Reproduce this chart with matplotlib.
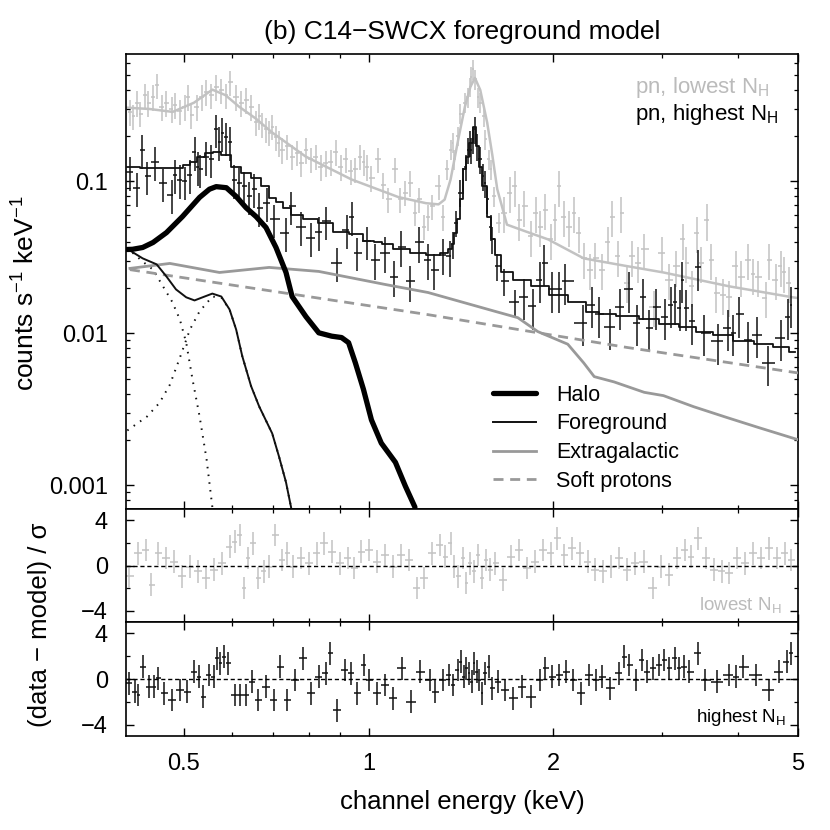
import numpy as np
import matplotlib
matplotlib.use("Agg")
import matplotlib.pyplot as plt
from matplotlib.ticker import FixedLocator, NullFormatter, LogLocator

plt.rcParams['font.family'] = ['Liberation Sans', 'DejaVu Sans']
plt.rcParams['mathtext.fontset'] = 'custom'
plt.rcParams['mathtext.rm'] = 'Liberation Sans'
plt.rcParams['mathtext.it'] = 'Liberation Sans:italic'
plt.rcParams['mathtext.bf'] = 'Liberation Sans:bold'

# ---------------- data: pn, highest N_H (black) ----------------
hi_E = [0.409, 0.420, 0.428, 0.436, 0.449, 0.463, 0.478, 0.484, 0.493, 0.502,
        0.512, 0.521, 0.527, 0.531, 0.544, 0.555, 0.565, 0.572, 0.578, 0.586,
        0.594, 0.604, 0.616, 0.628, 0.640, 0.652, 0.664, 0.684, 0.701, 0.734,
        0.748, 0.777, 0.806, 0.830, 0.852, 0.888, 0.921, 0.939, 0.956, 0.993,
        1.026, 1.065, 1.100, 1.130, 1.170, 1.210, 1.250, 1.280, 1.320, 1.355,
        1.370, 1.390, 1.410, 1.425, 1.440, 1.450, 1.460, 1.470, 1.480, 1.490,
        1.500, 1.520, 1.535, 1.545, 1.560, 1.580, 1.590, 1.620, 1.660, 1.730,
        1.790, 1.850, 1.900, 1.930, 1.990, 2.040, 2.090, 2.230, 2.310, 2.370,
        2.470, 2.570, 2.650, 2.730, 2.800, 2.860, 2.940, 3.040, 3.110, 3.150,
        3.210, 3.240, 3.290, 3.360, 3.440, 3.520, 3.710, 3.850, 3.920, 4.010,
        4.150, 4.280, 4.470, 4.690, 4.820, 4.870]
hi_rate = [0.116, 0.0912, 0.162, 0.108, 0.135, 0.0971, 0.082, 0.111, 0.103, 0.100,
           0.111, 0.157, 0.125, 0.120, 0.146, 0.140, 0.220, 0.183, 0.210, 0.195,
           0.183, 0.103, 0.098, 0.093, 0.0797, 0.089, 0.0672, 0.0727, 0.0563, 0.0461,
           0.0686, 0.0505, 0.0426, 0.0468, 0.0546, 0.0293, 0.0482, 0.0587, 0.0341, 0.0403,
           0.0306, 0.0341, 0.0237, 0.0373, 0.0220, 0.0397, 0.0306, 0.0263, 0.0330, 0.0322,
           0.0385, 0.0536, 0.0846, 0.103, 0.125, 0.162, 0.180, 0.162, 0.189, 0.220,
           0.170, 0.140, 0.108, 0.098, 0.0763, 0.0505, 0.0416, 0.0276, 0.0220, 0.0160,
           0.0175, 0.0151, 0.0226, 0.0293, 0.0195, 0.0195, 0.0220, 0.0118, 0.0155, 0.0134,
           0.0111, 0.0150, 0.0195, 0.0118, 0.0175, 0.0109, 0.0150, 0.0129, 0.0155, 0.0162,
           0.0148, 0.0226, 0.0148, 0.0120, 0.0272, 0.0101, 0.0089, 0.0109, 0.0101, 0.0134,
           0.0091, 0.0098, 0.0064, 0.0094, 0.0129, 0.0155]
hi_relerr = [0.25] * 40 + [0.27] * 10 + [0.2] * 20 + [0.3] * 36

# ---------------- data: pn, lowest N_H (light grey) ----------------
lo_E = [0.409, 0.414, 0.420, 0.425, 0.433, 0.438, 0.446, 0.452, 0.461, 0.469,
        0.478, 0.484, 0.493, 0.502, 0.508, 0.515, 0.525, 0.535, 0.544, 0.555,
        0.565, 0.576, 0.586, 0.596, 0.609, 0.620, 0.632, 0.644, 0.656, 0.664,
        0.672, 0.681, 0.689, 0.697, 0.707, 0.715, 0.723, 0.737, 0.751, 0.765,
        0.777, 0.791, 0.806, 0.821, 0.836, 0.852, 0.868, 0.884, 0.901, 0.918,
        0.935, 0.952, 0.970, 0.982, 0.993, 1.011, 1.038, 1.057, 1.077, 1.106,
        1.127, 1.148, 1.170, 1.190, 1.210, 1.230, 1.250, 1.270, 1.300, 1.320,
        1.340, 1.360, 1.370, 1.380, 1.400, 1.410, 1.435, 1.450, 1.460, 1.470,
        1.480, 1.490, 1.510, 1.520, 1.540, 1.550, 1.570, 1.580, 1.600, 1.630,
        1.660, 1.700, 1.730, 1.760, 1.790, 1.840, 1.870, 1.900, 1.940, 1.980,
        2.010, 2.040, 2.080, 2.120, 2.160, 2.200, 2.240, 2.290, 2.340, 2.400,
        2.450, 2.490, 2.550, 2.580, 2.630, 2.680, 2.750, 2.810, 2.910, 3.000,
        3.080, 3.170, 3.250, 3.290, 3.360, 3.420, 3.480, 3.550, 3.610, 3.680,
        3.780, 3.860, 3.960, 4.040, 4.150, 4.220, 4.300, 4.430, 4.480, 4.600,
        4.690, 4.740, 4.830]
lo_rate = [0.288, 0.268, 0.330, 0.280, 0.370, 0.330, 0.360, 0.430, 0.310, 0.330,
           0.300, 0.320, 0.290, 0.310, 0.360, 0.275, 0.310, 0.360, 0.390, 0.370,
           0.420, 0.400, 0.370, 0.450, 0.360, 0.330, 0.345, 0.310, 0.245, 0.270,
           0.237, 0.220, 0.210, 0.230, 0.195, 0.180, 0.162, 0.170, 0.146, 0.155,
           0.133, 0.162, 0.140, 0.146, 0.125, 0.133, 0.135, 0.157, 0.125, 0.140,
           0.117, 0.120, 0.146, 0.135, 0.125, 0.106, 0.140, 0.0953, 0.0763, 0.120,
           0.0763, 0.0846, 0.098, 0.0625, 0.0763, 0.0505, 0.0587, 0.0686, 0.093, 0.0587,
           0.120, 0.162, 0.180, 0.140, 0.200, 0.280, 0.330, 0.360, 0.420, 0.490,
           0.550, 0.470, 0.360, 0.330, 0.270, 0.189, 0.140, 0.120, 0.080, 0.0536,
           0.0625, 0.0846, 0.093, 0.056, 0.0686, 0.0436, 0.0625, 0.0505, 0.0653, 0.0416,
           0.056, 0.093, 0.0587, 0.0505, 0.0625, 0.0461, 0.0312, 0.0263, 0.0312, 0.0263,
           0.0397, 0.0587, 0.0322, 0.0625, 0.0216, 0.0322, 0.0293, 0.0357, 0.0150, 0.0340,
           0.0226, 0.0276, 0.0416, 0.0293, 0.0204, 0.0461, 0.0293, 0.0560, 0.0306, 0.0186,
           0.0180, 0.0175, 0.0276, 0.0237, 0.0306, 0.0245, 0.0237, 0.0172, 0.0306, 0.0226,
           0.0276, 0.0252, 0.0216]
lo_relerr = [0.19] * 70 + [0.15] * 20 + [0.27] * 53

# ---------------- model curves ----------------
hi_mod_E = [0.404, 0.446, 0.493, 0.505, 0.521, 0.531, 0.551, 0.565, 0.587, 0.609,
            0.632, 0.656, 0.681, 0.697, 0.715, 0.734, 0.760, 0.806, 0.852, 0.901,
            0.960, 1.002, 1.038, 1.065, 1.130, 1.205, 1.280, 1.330, 1.360, 1.372,
            1.385, 1.400, 1.415, 1.435, 1.450, 1.465, 1.490, 1.505, 1.520, 1.545,
            1.570, 1.590, 1.620, 1.665, 1.770, 1.900, 2.040, 2.190, 2.320, 2.420,
            2.640, 2.870, 3.080, 3.320, 3.500, 3.780, 4.070, 4.400, 4.720, 4.950]
hi_mod = [0.125, 0.122, 0.122, 0.128, 0.135, 0.146, 0.153, 0.157, 0.150, 0.125,
          0.114, 0.106, 0.093, 0.078, 0.073, 0.0672, 0.0606, 0.0563, 0.0536, 0.0468,
          0.0448, 0.0403, 0.0397, 0.0385, 0.0357, 0.0341, 0.0330, 0.0338, 0.0357, 0.0385,
          0.0461, 0.0563, 0.0763, 0.120, 0.146, 0.180, 0.230, 0.170, 0.125, 0.093,
          0.0587, 0.0416, 0.0326, 0.0252, 0.0226, 0.0204, 0.018, 0.016, 0.0139, 0.0134,
          0.0130, 0.0124, 0.0115, 0.0110, 0.0103, 0.0098, 0.0089, 0.0085, 0.0081, 0.0076]

lo_mod_E = [0.404, 0.44, 0.48, 0.52, 0.557, 0.585, 0.616, 0.655, 0.697, 0.79,
            0.939, 1.118, 1.24, 1.30, 1.33, 1.36, 1.40, 1.435, 1.465, 1.49,
            1.52, 1.56, 1.59, 1.62, 1.68, 1.80, 1.96, 2.24, 2.60, 3.02,
            3.87, 4.9, 5.0]
lo_mod = [0.306, 0.300, 0.287, 0.33, 0.402, 0.37, 0.31, 0.26, 0.21, 0.146,
          0.103, 0.079, 0.072, 0.0707, 0.076, 0.103, 0.19, 0.31, 0.42, 0.48,
          0.40, 0.244, 0.15, 0.089, 0.052, 0.047, 0.0416, 0.0312, 0.0280, 0.0252,
          0.0204, 0.0173, 0.0171]

halo_E = [0.405, 0.413, 0.429, 0.446, 0.469, 0.498, 0.531, 0.551, 0.565, 0.587,
          0.609, 0.632, 0.656, 0.681, 0.707, 0.734, 0.751, 0.791, 0.830, 0.871,
          0.904, 0.928, 0.952, 0.981, 1.011, 1.049, 1.106, 1.148, 1.19]
halo = [0.0357, 0.0358, 0.0368, 0.0397, 0.0461, 0.0588, 0.0786, 0.089, 0.0925, 0.091,
        0.0797, 0.0672, 0.0588, 0.0498, 0.0368, 0.0252, 0.0175, 0.0129, 0.0101, 0.0096,
        0.0094, 0.0087, 0.0064, 0.0043, 0.0027, 0.0019, 0.00142, 0.00099, 0.00072]

fg_E = [0.405, 0.429, 0.452, 0.469, 0.486, 0.505, 0.521, 0.541, 0.557, 0.576,
        0.594, 0.609, 0.623, 0.644, 0.664, 0.697, 0.715, 0.734, 0.748]
fg = [0.0360, 0.0312, 0.0285, 0.0237, 0.0195, 0.0173, 0.0165, 0.0175, 0.0183, 0.0175,
      0.0144, 0.0106, 0.0071, 0.0045, 0.0033, 0.0022, 0.00155, 0.00105, 0.00072]

fg1_E = [0.413, 0.430, 0.446, 0.463, 0.479, 0.493, 0.505, 0.517, 0.531, 0.545, 0.557]
fg1 = [0.0340, 0.0295, 0.0263, 0.0204, 0.0162, 0.0124, 0.0087, 0.0050, 0.00284, 0.00149, 0.00072]

fg2_E = [0.405, 0.436, 0.457, 0.475, 0.493, 0.512, 0.531, 0.557, 0.576, 0.594,
         0.609, 0.623, 0.644, 0.664, 0.697, 0.715, 0.734, 0.748]
fg2 = [0.0023, 0.00284, 0.0035, 0.0046, 0.0069, 0.0106, 0.014, 0.0175, 0.0172, 0.0144,
       0.0106, 0.0071, 0.0045, 0.0033, 0.0022, 0.00155, 0.00105, 0.00072]

xgal_E = [0.409, 0.475, 0.572, 0.689, 0.830, 1.065, 1.25, 1.605, 1.75, 1.885,
          2.11, 2.24, 2.33, 2.51, 2.81, 3.02, 3.38, 3.83, 4.32, 5.0]
xgal = [0.0268, 0.0289, 0.0252, 0.0272, 0.0256, 0.021, 0.0186, 0.014, 0.0127, 0.0103,
        0.0085, 0.0064, 0.0052, 0.0048, 0.0041, 0.0039, 0.0033, 0.0028, 0.0024, 0.0020]

sp_E = [0.409, 1.25, 2.63, 5.0]
sp = [0.0263, 0.0133, 0.0081, 0.0055]

# ---------------- residuals ----------------
rlo_E = [0.408, 0.422, 0.434, 0.443, 0.455, 0.469, 0.483, 0.497, 0.512, 0.527,
         0.543, 0.560, 0.577, 0.594, 0.606, 0.618, 0.626, 0.636, 0.649, 0.662,
         0.675, 0.689, 0.705, 0.724, 0.738, 0.753, 0.775, 0.799, 0.823, 0.847,
         0.873, 0.899, 0.926, 0.948, 0.973, 1.002, 1.032, 1.063, 1.095, 1.128,
         1.162, 1.197, 1.233, 1.270, 1.308, 1.334, 1.360, 1.379, 1.401, 1.423,
         1.443, 1.463, 1.486, 1.510, 1.530, 1.552, 1.576, 1.607, 1.657, 1.707,
         1.758, 1.812, 1.866, 1.922, 1.980, 2.030, 2.079, 2.141, 2.206, 2.272,
         2.340, 2.410, 2.483, 2.557, 2.634, 2.713, 2.804, 2.903, 2.990, 3.081,
         3.173, 3.268, 3.348, 3.435, 3.538, 3.644, 3.754, 3.866, 3.982, 4.101,
         4.225, 4.351, 4.482, 4.617, 4.755, 4.879]
rlo = [-0.97, 1.08, 1.38, -1.7, 1.08, 0.65, 0.35, -0.97, -0.09, -0.53,
       -1.1, -0.38, 0.2, 1.67, 2.1, 2.7, -2.0, 0.65, 1.96, -1.1,
       -0.53, -0.09, 2.7, 0.5, 1.08, -0.09, 0.65, 0.2, 1.08, 1.96,
       1.23, 0.2, 0.65, -0.23, 1.23, 1.38, 0.35, 0.94, -0.09, 0.94,
       0.5, -2.0, -1.1, 1.08, 1.82, 0.79, 1.96, -0.09, -0.97, 0.65,
       -1.55, 0.2, -0.53, 0.94, -1.1, 0.5, -0.38, 0.2, -1.26, 0.79,
       1.38, -0.23, 0.35, 1.38, 1.08, 2.4, 0.94, 1.52, 1.08, 0.35,
       -0.38, -0.53, -0.09, 0.65, -0.38, 0.2, 0.35, -2.0, -0.09, -0.82,
       0.65, 1.38, 0.79, 2.4, 0.65, -0.38, -0.53, -0.67, 0.65, 0.2,
       1.08, 0.65, 1.52, 0.65, 1.08, 0.5]

rhi_E = [0.408, 0.417, 0.422, 0.429, 0.439, 0.448, 0.455, 0.464, 0.478, 0.493,
         0.507, 0.520, 0.530, 0.538, 0.549, 0.560, 0.567, 0.574, 0.582, 0.590,
         0.606, 0.618, 0.631, 0.647, 0.662, 0.682, 0.702, 0.719, 0.738, 0.760,
         0.783, 0.807, 0.831, 0.852, 0.864, 0.890, 0.917, 0.935, 0.959, 0.983,
         1.002, 1.032, 1.063, 1.095, 1.133, 1.171, 1.215, 1.257, 1.282, 1.321,
         1.352, 1.374, 1.396, 1.415, 1.429, 1.443, 1.457, 1.471, 1.486, 1.500,
         1.515, 1.530, 1.545, 1.569, 1.590, 1.624, 1.665, 1.721, 1.775, 1.839,
         1.902, 1.941, 1.990, 2.045, 2.097, 2.153, 2.214, 2.285, 2.349, 2.397,
         2.473, 2.557, 2.607, 2.659, 2.729, 2.784, 2.840, 2.904, 2.970, 3.028,
         3.088, 3.148, 3.198, 3.262, 3.329, 3.435, 3.524, 3.693, 3.866, 3.966,
         4.062, 4.266, 4.482, 4.662, 4.806, 4.879]
rhi = [-0.38, -1.1, -1.41, 1.08, -0.67, -0.67, 0.06, -1.26, -1.85, -0.97,
       -1.1, 0.65, 0.2, -1.55, 0.35, 0.2, 1.82, 1.38, 1.96, 1.38,
       -1.41, -1.41, -1.41, -0.23, -1.85, -0.67, -1.85, 1.08, -1.85, -0.09,
       1.82, -1.26, 0.2, 0.5, 2.26, -2.73, 0.79, 0.5, -1.26, 1.23,
       -0.09, -1.26, -0.53, -1.7, 0.94, -1.99, 0.65, -0.09, -1.1, -0.09,
       0.35, -0.53, 0.79, 1.52, 0.2, 0.94, 0.5, -0.23, 1.38, 0.65,
       -0.09, -1.26, 0.5, 1.08, -0.82, -0.23, -0.97, -1.7, -0.67, -1.55,
       -0.09, 0.94, 0.2, 0.35, 0.65, -0.09, -1.26, 0.35, -0.09, 0.2,
       -0.82, 0.5, 1.96, 1.23, -0.09, 1.67, 0.65, 0.94, 1.23, 1.67,
       0.94, 1.82, 0.94, 1.08, 0.65, 2.26, -0.09, -0.23, 0.35, 0.2,
       1.08, 0.35, -0.97, 0.65, 1.52, 2.26]

xticks = [0.5, 1, 2, 5]
xtick_labels = ['0.5', '1', '2', '5']

# ---------------- helpers ----------------
def bin_halfwidths(E):
    E = np.asarray(E, float)
    lg = np.log10(E)
    mid = 0.5 * (lg[1:] + lg[:-1])
    lo = np.r_[lg[0] - (mid[0] - lg[0]), mid]
    hi = np.r_[mid, lg[-1] + (lg[-1] - mid[-1])]
    return np.vstack([E - 10 ** lo, 10 ** hi - E])

BLACK = '#111111'
LGREY = '#c2c2c2'
MGREY = '#999999'
FS_TICK = 17
FS_LAB = 18.5

fig = plt.figure(figsize=(8.3, 8.3), dpi=100)
L, W = 126 / 830, 672 / 830
ax = fig.add_axes([L, 1 - 509 / 830, W, 455 / 830])
ar1 = fig.add_axes([L, 1 - 622 / 830, W, 113 / 830])
ar2 = fig.add_axes([L, 1 - 736 / 830, W, 114 / 830])

# main panel
loE = np.array(lo_E); loR = np.array(lo_rate)
ax.errorbar(loE, loR, xerr=bin_halfwidths(loE), yerr=loR * np.array(lo_relerr),
            fmt='none', ecolor=LGREY, elinewidth=1.1, capsize=0, zorder=1)
ax.plot(lo_mod_E, lo_mod, color=LGREY, lw=1.8, zorder=2)
hiE = np.array(hi_E); hiR = np.array(hi_rate)
ax.errorbar(hiE, hiR, xerr=bin_halfwidths(hiE), yerr=hiR * np.array(hi_relerr),
            fmt='none', ecolor=BLACK, elinewidth=1.1, capsize=0, zorder=3)
ax.plot(hi_mod_E, hi_mod, color=BLACK, lw=1.3, drawstyle='steps-mid', zorder=4)

ax.plot(fg1_E, fg1, color=BLACK, lw=1.4, ls=(0, (0.8, 3.2)), zorder=5)
ax.plot(fg2_E, fg2, color=BLACK, lw=1.4, ls=(0, (0.8, 3.2)), zorder=5)
ax.plot(sp_E, sp, color=MGREY, lw=2.0, ls=(0, (3.6, 2.4)), zorder=5, label='Soft protons')
ax.plot(xgal_E, xgal, color=MGREY, lw=2.0, zorder=5, label='Extragalactic')
ax.plot(fg_E, fg, color=BLACK, lw=1.4, zorder=6, label='Foreground')
ax.plot(halo_E, halo, color='black', lw=3.8, zorder=7, solid_capstyle='round',
        solid_joinstyle='round', label='Halo')

ax.set_xscale('log'); ax.set_yscale('log')
ax.set_xlim(0.403, 5.0)
ax.set_ylim(0.0007, 0.69)
ax.set_yticks([0.001, 0.01, 0.1])
ax.set_yticklabels(['0.001', '0.01', '0.1'])
ax.yaxis.set_minor_locator(LogLocator(base=10, subs=np.arange(2, 10)))
ax.yaxis.set_minor_formatter(NullFormatter())
ax.set_ylabel('counts s$^{-1}$ keV$^{-1}$', fontsize=19)
ax.yaxis.set_label_coords(-0.128, 0.473)
ax.set_title('(b) C14\u2212SWCX foreground model', fontsize=19, pad=11)

h, l = ax.get_legend_handles_labels()
order = [3, 2, 1, 0]
ax.legend([h[i] for i in order], [l[i] for i in order], loc='upper left',
          bbox_to_anchor=(0.53, 0.297), frameon=False, fontsize=15.5,
          handlelength=2.0, handletextpad=0.95, labelspacing=0.36, borderpad=0)

ax.text(0.757, 0.927, 'pn, lowest N$_{\\rm H}$', transform=ax.transAxes,
        ha='left', va='center', fontsize=16, color='#bbbbbb')
ax.text(0.757, 0.866, 'pn, highest N$_{\\rm H}$', transform=ax.transAxes,
        ha='left', va='center', fontsize=16, color='black')

# residuals
for a, E, R, col in [(ar1, rlo_E, rlo, LGREY), (ar2, rhi_E, rhi, BLACK)]:
    E = np.array(E)
    a.errorbar(E, R, xerr=bin_halfwidths(E), yerr=1.0, fmt='none', ecolor=col,
               elinewidth=1.1, capsize=0)
    a.axhline(0, color='black', lw=1.0, ls=(0, (3, 2)))
    a.set_xscale('log')
    a.set_xlim(0.403, 5.0)
    a.set_ylim(-5, 5)
    a.set_yticks([-4, 0, 4])
    a.set_yticklabels(['\u22124', '0', '4'])
    a.yaxis.set_minor_locator(FixedLocator([-2, 2]))

ar1.text(0.976, 0.15, 'lowest N$_{\\rm H}$', transform=ar1.transAxes, ha='right',
         va='center', fontsize=13.5, color='#bbbbbb')
ar2.text(0.982, 0.16, 'highest N$_{\\rm H}$', transform=ar2.transAxes, ha='right',
         va='center', fontsize=13.5, color='black')

fig.text(40 / 830, 1 - 625 / 830, '(data \u2212 model) / \u03c3',
         rotation=90, ha='center', va='center', fontsize=FS_LAB)

for a in (ax, ar1, ar2):
    a.set_xticks(xticks)
    a.xaxis.set_minor_locator(LogLocator(base=10, subs=np.arange(2, 10)))
    a.xaxis.set_minor_formatter(NullFormatter())
    a.tick_params(which='both', direction='in', top=True, right=True)
    a.tick_params(which='major', length=6, width=1.0, labelsize=FS_TICK)
    a.tick_params(which='minor', length=3, width=0.9)
    a.tick_params(axis='y', pad=13)
    for s in a.spines.values():
        s.set_linewidth(1.2)

for a in (ax, ar1):
    a.set_xticklabels([])
ar2.set_xticklabels(xtick_labels)
ar2.tick_params(axis='x', pad=12)
ar2.set_xlabel('channel energy (keV)', fontsize=FS_LAB)
ar2.xaxis.set_label_coords(0.5, -0.47)

fig.savefig('out.png', dpi=100)
